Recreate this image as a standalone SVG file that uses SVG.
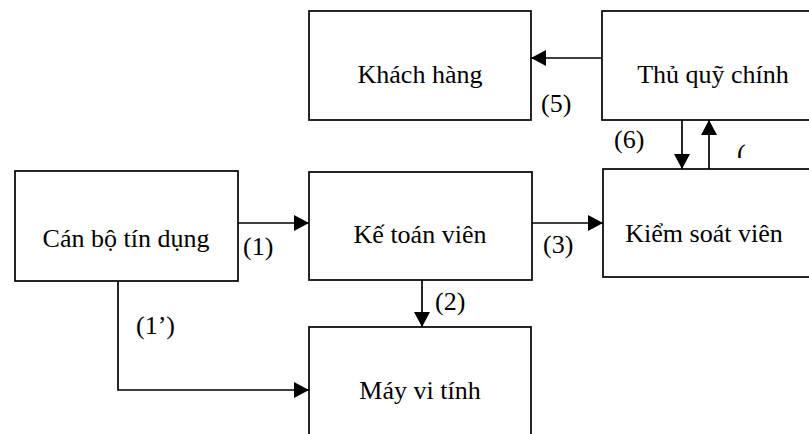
<svg xmlns="http://www.w3.org/2000/svg" width="809" height="434" viewBox="0 0 809 434">
<style>
.box{fill:#fff;stroke:#000;stroke-width:1.7}
text{font-family:'Liberation Serif','DejaVu Serif',serif;font-size:26px;fill:#000}
.c{stroke:#000;stroke-width:1.7;fill:none}
</style>
<defs>
<marker id="ah" viewBox="0 0 15 16" refX="15" refY="8" markerWidth="15" markerHeight="16" markerUnits="userSpaceOnUse" orient="auto">
<path d="M0,0 L15,8 L0,16 Z" fill="#000"/>
</marker>
<clipPath id="clipParen"><rect x="730" y="130" width="30" height="28"/></clipPath>
</defs>
<rect width="809" height="434" fill="#fff"/>
<g id="khach-hang"><rect class="box" x="309" y="11" width="222" height="109"/><text x="420" y="83" text-anchor="middle">Khách hàng</text></g>
<g id="thu-quy-chinh"><rect class="box" x="602" y="11" width="222" height="109"/><text x="713" y="83" text-anchor="middle">Thủ quỹ chính</text></g>
<g id="can-bo-tin-dung"><rect class="box" x="15" y="171" width="223" height="110"/><text x="126" y="247" text-anchor="middle">Cán bộ tín dụng</text></g>
<g id="ke-toan-vien"><rect class="box" x="309" y="172" width="223" height="108"/><text x="420" y="243" text-anchor="middle">Kế toán viên</text></g>
<g id="kiem-soat-vien"><rect class="box" x="603" y="169" width="222" height="108"/><text x="704" y="242" text-anchor="middle">Kiểm soát viên</text></g>
<g id="may-vi-tinh"><rect class="box" x="309" y="327" width="222" height="120"/><text x="420" y="399" text-anchor="middle">Máy vi tính</text></g>
<g id="connectors">
<line class="c" x1="238" y1="223" x2="309" y2="223" marker-end="url(#ah)"/>
<line class="c" x1="532" y1="223" x2="603" y2="223" marker-end="url(#ah)"/>
<line class="c" x1="602" y1="58" x2="531" y2="58" marker-end="url(#ah)"/>
<line class="c" x1="422" y1="280" x2="422" y2="327" marker-end="url(#ah)"/>
<polyline class="c" points="118,281 118,390 309,390" marker-end="url(#ah)"/>
<line class="c" x1="682" y1="120" x2="682" y2="169" marker-end="url(#ah)"/>
<line class="c" x1="709" y1="169" x2="709" y2="120" marker-end="url(#ah)"/>
</g>
<g id="labels">
<text x="243" y="255">(1)</text>
<text x="543" y="253">(3)</text>
<text x="541" y="112">(5)</text>
<text x="435" y="310">(2)</text>
<text x="136" y="334">(1’)</text>
<text x="614" y="148">(6)</text>
<text x="737" y="162" clip-path="url(#clipParen)">(</text>
</g>
</svg>
